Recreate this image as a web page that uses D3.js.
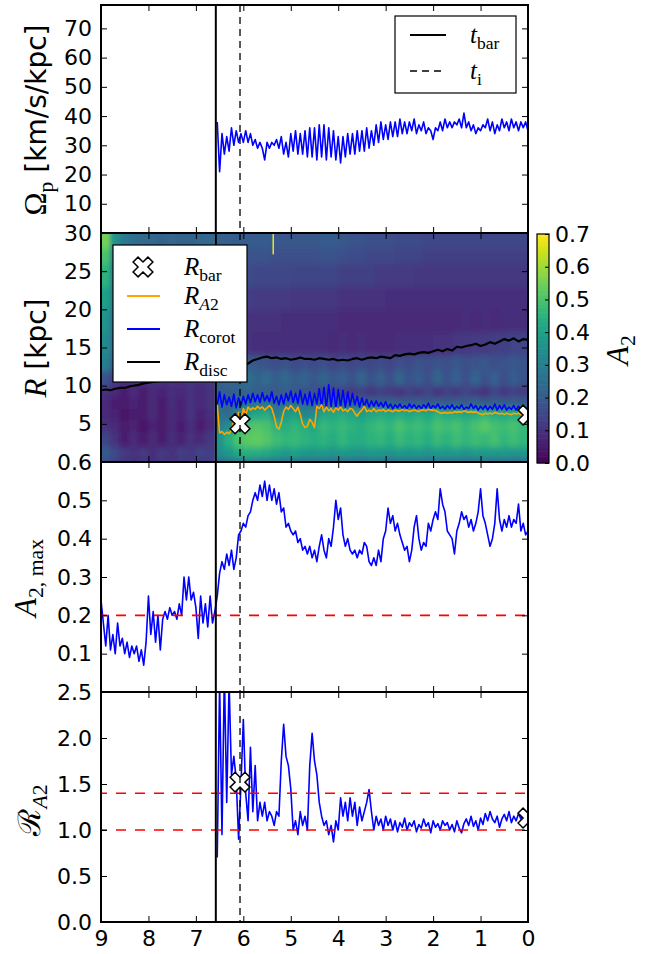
<!DOCTYPE html>
<html>
<head>
<meta charset="utf-8">
<script src="https://cdn.jsdelivr.net/npm/d3@7/dist/d3.min.js"></script>
<style>
html,body{margin:0;padding:0;background:#fff;}
svg{display:block;}
</style>
</head>
<body>
<svg id="chart" width="646" height="954"></svg>
<script>
// ================= DATA =================
const tBar = 6.58;
const tI = 6.07;
const xTicks = [9,8,7,6,5,4,3,2,1,0];
const xTickLabels = ["9","8","7","6","5","4","3","2","1","0"];

const omegaTicks = [0,10,20,30,40,50,60,70];
const omegaTickLabels = ["","10","20","30","40","50","60","70"];
const radiusTicks = [0,5,10,15,20,25,30];
const radiusTickLabels = ["","5","10","15","20","25","30"];
const a2Ticks = [0,0.1,0.2,0.3,0.4,0.5,0.6];
const a2TickLabels = ["","0.1","0.2","0.3","0.4","0.5","0.6"];
const ratioTicks = [0,0.5,1,1.5,2,2.5];
const ratioTickLabels = ["0.0","0.5","1.0","1.5","2.0","2.5"];
const cbarTicks = [0,0.1,0.2,0.3,0.4,0.5,0.6,0.7];
const cbarTickLabels = ["0.0","0.1","0.2","0.3","0.4","0.5","0.6","0.7"];

// post-bar series, sampled every 0.05 Gyr from t = 6.55 down to 0
const postStart = 6.55, postStep = 0.05;
const omegaP = [
  38,21,34,27,33,28,36,30,35,31,34,31,35,31,34,30,32,29,31,29,
  25,31,29,31,30,32,29,33,27,31,26,34,28,35,27,34,27,35,26,36,
  26,36,25,37,26,37,25,36,26,35,25,33,24,33,26,34,27,34,27,35,
  28,35,28,36,29,35,30,37,31,38,32,37,32,38,33,38,33,39,34,38,
  34,38,35,39,34,37,35,38,34,36,35,32,36,35,38,35,39,36,38,36,
  38,37,39,36,41,36,38,35,37,34,36,35,37,36,39,35,38,34,37,35,
  39,36,38,35,39,36,38,35,38,36,38,35
];
const ratioA2 = [
  0.7,2.6,0.95,2.7,1.3,2.6,1.6,1.8,1.55,0.9,1.5,2.2,1.4,1.1,1.9,1.2,1.7,1.1,1.3,1.15,
  1.3,1.1,1.2,1.15,1.05,1.2,1.15,1.75,2.15,1.8,1.7,1.45,1.0,1.1,0.95,1.2,1.05,1.15,1.0,1.7,
  2.05,1.75,1.6,1.3,1.15,1.05,1.1,0.95,1.05,0.87,1.1,1.0,1.35,1.15,1.3,1.1,1.35,1.15,1.3,1.05,
  1.25,1.1,1.2,1.3,1.44,1.2,1.0,1.15,1.05,1.12,1.0,1.15,1.05,1.12,1.0,1.1,0.98,1.08,1.03,1.13,
  1.0,1.08,1.04,1.1,0.98,1.06,1.02,1.12,1.04,1.08,0.97,1.1,1.03,1.07,1.0,1.1,1.05,1.08,1.0,1.06,
  0.98,1.1,1.02,0.97,1.07,1.12,1.05,1.15,1.04,1.1,1.0,1.13,1.06,1.18,1.1,1.2,1.12,1.08,1.15,1.03,
  1.12,1.17,1.1,1.2,1.08,1.15,1.1,1.18,1.12,1.2,1.1,1.13
];
const radiusA2 = [
  7.5,3.8,4.0,3.6,3.9,3.7,4.2,5.5,4.9,6.5,5.2,7.0,6.2,7.2,6.8,7.1,6.9,7.3,7.0,7.2,
  6.8,7.1,7.4,7.0,6.0,4.6,4.3,5.2,6.6,7.2,6.9,7.4,7.0,6.6,7.2,6.2,5.0,4.5,4.7,5.6,
  5.2,4.5,7.3,7.0,7.5,6.6,7.2,6.7,7.0,6.5,7.1,6.8,7.2,6.7,6.9,6.6,7.0,6.9,6.4,6.0,
  6.5,6.8,7.3,6.6,6.8,6.6,7.0,6.6,6.8,6.7,6.9,6.6,6.8,6.7,6.6,6.8,6.7,6.7,6.9,6.7,
  6.8,6.6,6.7,6.8,6.7,6.6,6.8,6.8,6.7,6.9,6.8,6.8,6.7,6.6,6.4,6.4,6.5,6.4,6.5,6.4,
  6.6,6.5,6.6,6.5,6.7,6.6,6.5,6.6,6.5,6.6,6.4,6.3,6.2,6.4,6.3,6.4,6.3,6.5,6.4,6.3,
  6.4,6.2,6.4,6.3,6.2,6.4,6.3,6.4,6.2,6.3,6.3,6.2
];
const radiusCorot = [
  7.5,9.2,7.2,8.8,7.5,8.5,7.3,8.9,7.1,8.4,7.4,8.6,7.6,8.8,7.8,9.0,7.9,8.8,7.8,9.1,
  8.0,8.7,7.9,9.2,7.7,8.6,7.5,8.8,7.6,9.0,8.0,9.3,7.8,9.0,7.7,9.4,7.6,8.9,7.5,9.2,
  7.4,9.0,7.6,9.6,7.2,9.8,7.1,10.1,7.3,9.7,7.0,9.5,7.3,9.4,7.2,9.2,7.4,9.0,7.5,8.6,
  7.2,8.4,7.3,8.2,7.2,8.0,7.3,8.0,7.3,7.8,7.2,7.9,7.1,7.6,7.0,7.5,7.1,7.6,7.0,7.4,
  7.0,7.6,7.1,7.5,7.0,7.4,7.0,7.5,7.1,7.7,7.0,7.4,7.1,7.6,7.0,7.3,6.9,7.4,7.0,7.5,
  6.9,7.3,7.0,7.5,6.9,7.2,7.0,7.6,7.0,7.4,6.8,7.3,6.9,7.4,6.8,7.3,6.9,7.6,6.8,7.4,
  6.9,7.5,6.8,7.2,6.9,7.4,6.8,7.3,6.9,7.4,6.9,7.1
];

// full-range series, A2,max every 0.05 Gyr from t = 9 down to 0
const a2Start = 9.0, a2Step = 0.05;
const a2Max = [
  0.24,0.18,0.12,0.20,0.11,0.15,0.10,0.18,0.12,0.14,0.10,0.13,0.09,0.12,0.10,0.12,0.08,0.11,0.07,0.13,
  0.25,0.15,0.21,0.13,0.20,0.11,0.19,0.21,0.19,0.22,0.20,0.21,0.19,0.23,0.20,0.30,0.24,0.30,0.24,0.26,
  0.22,0.14,0.25,0.18,0.23,0.17,0.25,0.18,0.21,0.25,0.31,0.34,0.32,0.36,0.33,0.37,0.32,0.35,0.41,0.42,
  0.44,0.43,0.46,0.47,0.50,0.52,0.50,0.54,0.51,0.55,0.50,0.54,0.50,0.53,0.49,0.52,0.47,0.48,0.43,0.44,
  0.42,0.41,0.42,0.39,0.40,0.37,0.38,0.36,0.38,0.35,0.37,0.34,0.38,0.41,0.37,0.35,0.40,0.38,0.43,0.50,
  0.45,0.48,0.41,0.38,0.40,0.37,0.36,0.37,0.35,0.37,0.36,0.39,0.38,0.34,0.33,0.35,0.33,0.37,0.34,0.40,
  0.42,0.48,0.44,0.46,0.42,0.44,0.41,0.39,0.37,0.38,0.34,0.37,0.43,0.46,0.40,0.37,0.39,0.38,0.44,0.42,
  0.45,0.47,0.45,0.53,0.49,0.47,0.42,0.41,0.40,0.36,0.42,0.44,0.47,0.45,0.46,0.43,0.45,0.42,0.44,0.47,
  0.53,0.46,0.44,0.41,0.38,0.40,0.44,0.53,0.45,0.42,0.45,0.43,0.46,0.43,0.45,0.44,0.49,0.42,0.44,0.41,
  0.42
];
// disc radius every 0.1 Gyr from t = 9 down to 0
const discStart = 9.0, discStep = 0.1;
const radiusDisc = [
  9.4,9.5,9.4,9.6,9.7,9.7,9.9,10.0,10.1,10.3,
  10.4,10.5,10.6,10.7,10.8,10.9,11.0,11.1,11.2,11.3,
  11.4,11.5,11.6,11.7,11.8,12.0,12.2,12.4,12.5,12.6,
  12.7,12.9,13.3,13.5,13.7,13.8,13.6,13.7,13.5,13.6,
  13.4,13.5,13.7,13.5,13.5,13.4,13.6,13.5,13.4,13.5,
  13.3,13.4,13.3,13.5,13.6,13.4,13.6,13.7,13.6,13.8,
  13.7,13.6,14.0,13.9,14.1,14.2,14.1,14.3,14.4,14.3,
  14.5,14.7,14.5,14.8,14.6,15.1,15.0,15.2,15.3,15.5,
  15.2,15.4,15.7,15.5,15.8,16.1,15.9,16.2,15.8,16.1,
  16.0
];

// bar radius markers
const barTimes = [6.07, 0.0];
const barRadius = [5.0, 6.15];
const barRatio = [1.52, 1.13];

const a2Thresholds = [0.2];
const ratioThresholds = [1.0, 1.4];

// heatmap of A2(R, t): columns 0.2 Gyr wide from t = 9 to 0, rows by radius edges
const heatColumnWidth = 0.2;
const heatRadiusEdges = [0,0.5,2,4,5.5,7,8.5,10,12,14,17,20,23,26,28,30];
const heatA2 = [
  [0.15,0.12,0.1,0.09,0.1,0.09,0.1,0.1,0.1,0.11,0.1,0.12,
   0.22,0.22,0.23,0.24,0.24,0.23,0.22,0.22,0.22,0.22,0.21,0.22,0.22,0.21,0.22,0.21,0.22,0.22,0.21,0.22,0.22,0.21,0.22,0.22,0.21,0.22,0.22,0.21,0.22,0.22,0.21,0.22,0.22],
  [0.2,0.16,0.12,0.1,0.12,0.09,0.12,0.1,0.13,0.11,0.14,0.13,
   0.34,0.38,0.42,0.44,0.43,0.42,0.4,0.38,0.4,0.38,0.37,0.38,0.36,0.38,0.37,0.36,0.38,0.37,0.36,0.38,0.37,0.38,0.36,0.38,0.37,0.38,0.36,0.38,0.38,0.37,0.38,0.36,0.37],
  [0.14,0.1,0.06,0.08,0.05,0.08,0.06,0.09,0.07,0.1,0.08,0.11,
   0.36,0.44,0.5,0.52,0.53,0.51,0.48,0.46,0.47,0.45,0.44,0.45,0.43,0.46,0.44,0.43,0.45,0.46,0.44,0.47,0.45,0.46,0.44,0.47,0.45,0.48,0.46,0.48,0.47,0.49,0.46,0.48,0.46],
  [0.1,0.08,0.05,0.07,0.04,0.07,0.05,0.08,0.06,0.09,0.06,0.08,
   0.3,0.34,0.44,0.5,0.51,0.5,0.45,0.44,0.46,0.44,0.42,0.47,0.45,0.47,0.45,0.44,0.46,0.48,0.46,0.5,0.47,0.48,0.46,0.5,0.48,0.5,0.47,0.5,0.52,0.49,0.48,0.5,0.47],
  [0.08,0.07,0.04,0.06,0.05,0.08,0.05,0.08,0.07,0.1,0.07,0.09,
   0.26,0.24,0.32,0.4,0.42,0.44,0.3,0.38,0.4,0.32,0.34,0.42,0.42,0.43,0.41,0.4,0.42,0.43,0.42,0.44,0.42,0.44,0.42,0.45,0.43,0.44,0.42,0.44,0.46,0.43,0.42,0.44,0.42],
  [0.08,0.06,0.05,0.07,0.05,0.08,0.06,0.09,0.07,0.1,0.08,0.1,
   0.24,0.22,0.24,0.26,0.27,0.26,0.24,0.25,0.26,0.24,0.23,0.24,0.23,0.22,0.22,0.21,0.22,0.21,0.22,0.21,0.2,0.21,0.2,0.21,0.2,0.21,0.2,0.22,0.2,0.21,0.2,0.21,0.2],
  [0.1,0.08,0.06,0.08,0.06,0.08,0.07,0.09,0.08,0.1,0.08,0.1,
   0.2,0.2,0.22,0.22,0.21,0.2,0.19,0.2,0.19,0.18,0.17,0.16,0.15,0.14,0.12,0.13,0.11,0.13,0.12,0.1,0.13,0.11,0.14,0.1,0.13,0.11,0.14,0.12,0.1,0.14,0.11,0.13,0.12],
  [0.18,0.12,0.1,0.1,0.1,0.1,0.1,0.1,0.1,0.11,0.1,0.11,
   0.22,0.24,0.22,0.25,0.22,0.24,0.21,0.23,0.2,0.22,0.19,0.22,0.19,0.21,0.18,0.22,0.18,0.21,0.17,0.22,0.18,0.2,0.17,0.22,0.18,0.21,0.17,0.22,0.18,0.21,0.17,0.2,0.18],
  [0.3,0.2,0.14,0.13,0.13,0.14,0.13,0.14,0.13,0.14,0.14,0.14,
   0.17,0.2,0.22,0.2,0.19,0.18,0.17,0.18,0.16,0.17,0.16,0.17,0.15,0.16,0.15,0.16,0.15,0.16,0.15,0.17,0.16,0.18,0.17,0.18,0.17,0.19,0.17,0.18,0.19,0.17,0.18,0.19,0.18],
  [0.33,0.24,0.18,0.16,0.15,0.15,0.15,0.16,0.15,0.16,0.16,0.16,
   0.12,0.11,0.1,0.1,0.09,0.09,0.09,0.09,0.09,0.09,0.09,0.09,0.08,0.09,0.08,0.09,0.08,0.08,0.08,0.09,0.09,0.09,0.09,0.1,0.1,0.11,0.11,0.12,0.12,0.13,0.13,0.14,0.14],
  [0.36,0.26,0.2,0.18,0.17,0.17,0.16,0.17,0.17,0.17,0.17,0.18,
   0.13,0.12,0.11,0.1,0.1,0.1,0.1,0.09,0.09,0.09,0.09,0.09,0.09,0.08,0.08,0.08,0.08,0.08,0.08,0.08,0.08,0.08,0.08,0.08,0.08,0.08,0.09,0.08,0.09,0.08,0.09,0.09,0.09],
  [0.4,0.28,0.22,0.2,0.19,0.19,0.18,0.19,0.19,0.18,0.19,0.2,
   0.15,0.14,0.13,0.13,0.12,0.12,0.12,0.12,0.11,0.11,0.11,0.11,0.11,0.1,0.1,0.1,0.1,0.1,0.09,0.09,0.09,0.09,0.09,0.09,0.09,0.09,0.09,0.09,0.09,0.09,0.09,0.09,0.09],
  [0.45,0.3,0.24,0.22,0.21,0.2,0.2,0.21,0.2,0.2,0.2,0.21,
   0.17,0.17,0.16,0.16,0.15,0.15,0.15,0.15,0.14,0.14,0.14,0.14,0.14,0.13,0.13,0.13,0.13,0.12,0.12,0.12,0.12,0.11,0.11,0.11,0.11,0.11,0.11,0.11,0.11,0.11,0.11,0.11,0.11],
  [0.5,0.33,0.26,0.23,0.22,0.22,0.21,0.22,0.21,0.21,0.22,0.22,
   0.19,0.19,0.18,0.18,0.18,0.18,0.17,0.17,0.17,0.17,0.17,0.18,0.18,0.17,0.16,0.16,0.15,0.15,0.15,0.14,0.14,0.14,0.13,0.13,0.13,0.13,0.13,0.13,0.13,0.13,0.13,0.13,0.13],
  [0.55,0.36,0.28,0.25,0.24,0.23,0.22,0.23,0.22,0.22,0.23,0.24,
   0.21,0.21,0.2,0.2,0.2,0.2,0.19,0.19,0.19,0.19,0.19,0.2,0.2,0.19,0.18,0.18,0.17,0.17,0.17,0.16,0.16,0.16,0.15,0.15,0.15,0.15,0.15,0.15,0.15,0.15,0.15,0.15,0.15]
];
const heatBarColumn = 12; // first column after bar formation
const heatStreak = [{t: 5.37, r0: 27.2, r1: 30, v: 0.68}];

// ================= LAYOUT =================
const X0 = 101, X1 = 528;
const P = [
  {top: 5,   bottom: 233},
  {top: 233, bottom: 462},
  {top: 462, bottom: 692},
  {top: 692, bottom: 922}
];
const SANS = "DejaVu Sans";
const SERIF = "Liberation Serif";
const TICK_FS = 22;

const svg = d3.select("#chart");
const defs = svg.append("defs");

const x = d3.scaleLinear().domain([9, 0]).range([X0, X1]);
const y1 = d3.scaleLinear().domain([0, 78]).range([P[0].bottom, P[0].top]);
const y2 = d3.scaleLinear().domain([0, 30]).range([P[1].bottom, P[1].top]);
const y3 = d3.scaleLinear().domain([0, 0.6]).range([P[2].bottom, P[2].top]);
const y4 = d3.scaleLinear().domain([0, 2.5]).range([P[3].bottom, P[3].top]);
const color = d3.scaleSequential(d3.interpolateViridis).domain([0, 0.7]);

const timesFrom = (t0, n, dt) => d3.range(n).map(i => +(t0 - i * dt).toFixed(4));
const series = (t0, dt, vals) => timesFrom(t0, vals.length, dt).map((t, i) => ({t, v: vals[i]}));

P.forEach((p, i) => {
  defs.append("clipPath").attr("id", "clip" + i)
    .append("rect").attr("x", X0).attr("y", p.top).attr("width", X1 - X0).attr("height", p.bottom - p.top);
});

// ---------- rich text helper ----------
function rich(sel, runs, size) {
  let shift = 0;
  runs.forEach(r => {
    const ts = sel.append("tspan").text(r.t);
    const fs = r.size || size;
    ts.attr("font-family", r.font || SERIF);
    if (r.it) ts.attr("font-style", "italic");
    const target = r.sub ? fs * 0.24 : 0;
    const fsz = r.sub ? fs * 0.7 : fs;
    ts.attr("font-size", fsz);
    if (target !== shift) { ts.attr("dy", target - shift); shift = target; }
  });
}

// ---------- heatmap ----------
const heatTimeEdges = d3.range(heatA2[0].length + 1).map(i => +(9 - i * heatColumnWidth).toFixed(4));
defs.append("filter").attr("id", "soft").attr("filterUnits", "userSpaceOnUse")
  .attr("x", 0).attr("y", 0).attr("width", 646).attr("height", 954)
  .append("feGaussianBlur").attr("stdDeviation", "2 3");

const segs = [[0, heatBarColumn], [heatBarColumn, heatA2[0].length]];
segs.forEach((s, si) => {
  const cid = "hclip" + si;
  const xa = x(heatTimeEdges[s[0]]), xb = x(heatTimeEdges[s[1]]);
  defs.append("clipPath").attr("id", cid).append("rect")
    .attr("x", xa).attr("y", P[1].top).attr("width", xb - xa).attr("height", P[1].bottom - P[1].top);
  const g = svg.append("g").attr("clip-path", `url(#${cid})`).append("g").attr("filter", "url(#soft)");
  const cells = [];
  heatA2.forEach((row, ri) => {
    for (let c = s[0]; c < s[1]; c++) {
      cells.push({ri, c, v: row[c]});
    }
  });
  g.selectAll("rect").data(cells).join("rect")
    .attr("x", d => x(heatTimeEdges[d.c]) - (d.c === s[0] ? 14 : 0.5))
    .attr("width", d => x(heatTimeEdges[d.c + 1]) - x(heatTimeEdges[d.c]) + (d.c === s[0] ? 14 : 0.5) + (d.c === s[1] - 1 ? 14 : 0.5))
    .attr("y", d => y2(heatRadiusEdges[d.ri + 1]) - (d.ri === heatA2.length - 1 ? 14 : 0.5))
    .attr("height", d => y2(heatRadiusEdges[d.ri]) - y2(heatRadiusEdges[d.ri + 1]) + (d.ri === 0 ? 14 : 0.5) + (d.ri === heatA2.length - 1 ? 14 : 0.5))
    .attr("fill", d => color(d.v));
});
svg.append("g").attr("clip-path", "url(#clip1)").selectAll("rect").data(heatStreak).join("rect")
  .attr("x", d => x(d.t) - 0.75).attr("width", 1.5)
  .attr("y", d => y2(d.r1)).attr("height", d => y2(d.r0) - y2(d.r1))
  .attr("fill", d => color(d.v));

// ---------- lines ----------
const line = (ys) => d3.line().x(d => x(d.t)).y(d => ys(d.v));

// panel 1
const g1 = svg.append("g").attr("clip-path", "url(#clip0)");
g1.append("path").datum(series(postStart, postStep, omegaP))
  .attr("d", line(y1)).attr("fill", "none").attr("stroke", "#0000ff").attr("stroke-width", 1.6).attr("stroke-linejoin", "round");

// panel 2
const g2 = svg.append("g").attr("clip-path", "url(#clip1)");
g2.append("path").datum(series(discStart, discStep, radiusDisc))
  .attr("d", line(y2)).attr("fill", "none").attr("stroke", "#000").attr("stroke-width", 2.2).attr("stroke-linejoin", "round");
g2.append("path").datum(series(postStart, postStep, radiusCorot))
  .attr("d", line(y2)).attr("fill", "none").attr("stroke", "#0000ff").attr("stroke-width", 1.6).attr("stroke-linejoin", "round");
g2.append("path").datum(series(postStart, postStep, radiusA2))
  .attr("d", line(y2)).attr("fill", "none").attr("stroke", "#ffa500").attr("stroke-width", 1.6).attr("stroke-linejoin", "round");

// panel 3
const g3 = svg.append("g").attr("clip-path", "url(#clip2)");
g3.append("path").datum(series(a2Start, a2Step, a2Max))
  .attr("d", line(y3)).attr("fill", "none").attr("stroke", "#0000ff").attr("stroke-width", 1.6).attr("stroke-linejoin", "round");
g3.selectAll("line.thr").data(a2Thresholds).join("line").attr("class", "thr")
  .attr("x1", X0).attr("x2", X1).attr("y1", d => y3(d)).attr("y2", d => y3(d))
  .attr("stroke", "#ff0000").attr("stroke-width", 1.6).attr("stroke-dasharray", "10,9").attr("stroke-dashoffset", 4);

// panel 4
const g4 = svg.append("g").attr("clip-path", "url(#clip3)");
g4.append("path").datum(series(postStart, postStep, ratioA2))
  .attr("d", line(y4)).attr("fill", "none").attr("stroke", "#0000ff").attr("stroke-width", 1.6).attr("stroke-linejoin", "round");
g4.selectAll("line.thr").data(ratioThresholds).join("line").attr("class", "thr")
  .attr("x1", X0).attr("x2", X1).attr("y1", d => y4(d)).attr("y2", d => y4(d))
  .attr("stroke", "#ff0000").attr("stroke-width", 1.6).attr("stroke-dasharray", "10,9").attr("stroke-dashoffset", 4);

// X markers
function xMarker(h) {
  const a = h / 3;
  const pts = [[a,h],[a,a],[h,a],[h,-a],[a,-a],[a,-h],[-a,-h],[-a,-a],[-h,-a],[-h,a],[-a,a],[-a,h]];
  const s = Math.SQRT1_2;
  return "M" + pts.map(([px, py]) => [(px - py) * s, (px + py) * s].map(v => v.toFixed(2)).join(",")).join("L") + "Z";
}
const XM = xMarker(10.5);
g2.selectAll("path.mk").data(barTimes.map((t, i) => ({t, v: barRadius[i]}))).join("path").attr("class", "mk")
  .attr("d", XM).attr("transform", d => `translate(${x(d.t)},${y2(d.v)})`)
  .attr("fill", "#fff").attr("stroke", "#000").attr("stroke-width", 1.5);
g4.selectAll("path.mk").data(barTimes.map((t, i) => ({t, v: barRatio[i]}))).join("path").attr("class", "mk")
  .attr("d", XM).attr("transform", d => `translate(${x(d.t)},${y4(d.v)})`)
  .attr("fill", "#fff").attr("stroke", "#000").attr("stroke-width", 1.5);

// vertical event lines
P.forEach(p => {
  svg.append("line").attr("x1", x(tBar)).attr("x2", x(tBar)).attr("y1", p.top).attr("y2", p.bottom)
    .attr("stroke", "#000").attr("stroke-width", 2);
  svg.append("line").attr("x1", x(tI)).attr("x2", x(tI)).attr("y1", p.top).attr("y2", p.bottom)
    .attr("stroke", "#000").attr("stroke-width", 1.3).attr("stroke-dasharray", "7,5");
});

// ---------- axes ----------
function styleAxis(g) {
  g.select(".domain").remove();
  g.selectAll(".tick line").attr("stroke", "#000").attr("stroke-width", 1);
  g.attr("font-family", SANS).attr("font-size", TICK_FS);
  g.selectAll(".tick text").attr("fill", "#000");
}
const ys = [y1, y2, y3, y4];
const yT = [omegaTicks, radiusTicks, a2Ticks, ratioTicks];
const yL = [omegaTickLabels, radiusTickLabels, a2TickLabels, ratioTickLabels];
P.forEach((p, i) => {
  svg.append("g").attr("transform", `translate(${X0},0)`)
    .call(d3.axisLeft(ys[i]).tickValues(yT[i]).tickSize(-6).tickSizeOuter(0).tickPadding(9)
      .tickFormat((d, k) => yL[i][k])).call(styleAxis);
  svg.append("g").attr("transform", `translate(${X1},0)`)
    .call(d3.axisRight(ys[i]).tickValues(yT[i]).tickSize(-6).tickSizeOuter(0).tickFormat(() => "")).call(styleAxis);
  svg.append("g").attr("transform", `translate(0,${p.top})`)
    .call(d3.axisTop(x).tickValues(xTicks).tickSize(-6).tickSizeOuter(0).tickFormat(() => "")).call(styleAxis);
  svg.append("g").attr("transform", `translate(0,${p.bottom})`)
    .call(d3.axisBottom(x).tickValues(xTicks).tickSize(-6).tickSizeOuter(0).tickPadding(8)
      .tickFormat((d, k) => i === 3 ? xTickLabels[k] : "")).call(styleAxis);
  svg.append("rect").attr("x", X0).attr("y", p.top).attr("width", X1 - X0).attr("height", p.bottom - p.top)
    .attr("fill", "none").attr("stroke", "#000").attr("stroke-width", 2);
});

// ---------- colorbar ----------
const CB = {x0: 537, x1: 549, top: 234, bottom: 463};
const cy = d3.scaleLinear().domain([0, 0.7]).range([CB.bottom, CB.top]);
const cbSteps = d3.range(0, 140).map(i => i * 0.7 / 140);
svg.append("g").selectAll("rect").data(cbSteps).join("rect")
  .attr("x", CB.x0).attr("width", CB.x1 - CB.x0)
  .attr("y", d => cy(d + 0.7 / 140) - 0.3).attr("height", d => cy(d) - cy(d + 0.7 / 140) + 0.6)
  .attr("fill", d => color(d + 0.35 / 140));
svg.append("rect").attr("x", CB.x0).attr("y", CB.top).attr("width", CB.x1 - CB.x0).attr("height", CB.bottom - CB.top)
  .attr("fill", "none").attr("stroke", "#000").attr("stroke-width", 1.2);
svg.append("g").attr("transform", `translate(${CB.x1},0)`)
  .call(d3.axisRight(cy).tickValues(cbarTicks).tickSize(-4).tickSizeOuter(0).tickPadding(6)
    .tickFormat((d, k) => cbarTickLabels[k])).call(styleAxis);

// ---------- axis labels ----------
function yLabel(xPos, yPos, runs, size) {
  const t = svg.append("text").attr("transform", `translate(${xPos},${yPos}) rotate(-90)`)
    .attr("text-anchor", "middle").attr("fill", "#000");
  rich(t, runs, size);
}
yLabel(46, 120, [{t: "Ω", font: SERIF, size: 31}, {t: "p", sub: true, size: 31}, {t: " [km/s/kpc]", font: SANS}], 28);
yLabel(46, 348, [{t: "R", it: true, size: 31}, {t: " [kpc]", font: SANS}], 28);
yLabel(36, 578, [{t: "A", it: true}, {t: "2, max", sub: true}], 31);
yLabel(40, 810, [{t: "ℛ", font: "DejaVu Serif"}, {t: "A", it: true, sub: true}, {t: "2", sub: true}], 31);
yLabel(628, 350, [{t: "A", it: true}, {t: "2", sub: true}], 31);

// ---------- legends ----------
// panel 1 legend
svg.append("rect").attr("x", 395).attr("y", 16).attr("width", 121).attr("height", 77)
  .attr("fill", "#fff").attr("stroke", "#000").attr("stroke-width", 1.2);
const leg1 = [{dash: null, sub: "bar", y: 35}, {dash: "7,5", sub: "i", y: 71}];
leg1.forEach(e => {
  svg.append("line").attr("x1", 410).attr("x2", 446).attr("y1", e.y).attr("y2", e.y)
    .attr("stroke", "#000").attr("stroke-width", e.dash ? 1.3 : 2).attr("stroke-dasharray", e.dash);
  const t = svg.append("text").attr("x", 470).attr("y", e.y + 8).attr("fill", "#000");
  rich(t, [{t: "t", it: true}, {t: e.sub, sub: true}], 25);
});

// panel 2 legend
svg.append("rect").attr("x", 113).attr("y", 245).attr("width", 134).attr("height", 137)
  .attr("fill", "#fff").attr("stroke", "#000").attr("stroke-width", 1.2);
svg.append("path").attr("d", XM).attr("transform", "translate(143,267)")
  .attr("fill", "#fff").attr("stroke", "#000").attr("stroke-width", 1.5);
const leg2 = [
  {y: 267, color: null, runs: [{t: "R", it: true}, {t: "bar", sub: true}]},
  {y: 296, color: "#ffa500", runs: [{t: "R", it: true}, {t: "A", it: true, sub: true}, {t: "2", sub: true}]},
  {y: 329, color: "#0000ff", runs: [{t: "R", it: true}, {t: "corot", sub: true}]},
  {y: 362, color: "#000", runs: [{t: "R", it: true}, {t: "disc", sub: true}]}
];
leg2.forEach(e => {
  if (e.color) svg.append("line").attr("x1", 127).attr("x2", 160).attr("y1", e.y).attr("y2", e.y)
    .attr("stroke", e.color).attr("stroke-width", 2);
  const t = svg.append("text").attr("x", 184).attr("y", e.y + 8).attr("fill", "#000");
  rich(t, e.runs, 25);
});
</script>
</body>
</html>
